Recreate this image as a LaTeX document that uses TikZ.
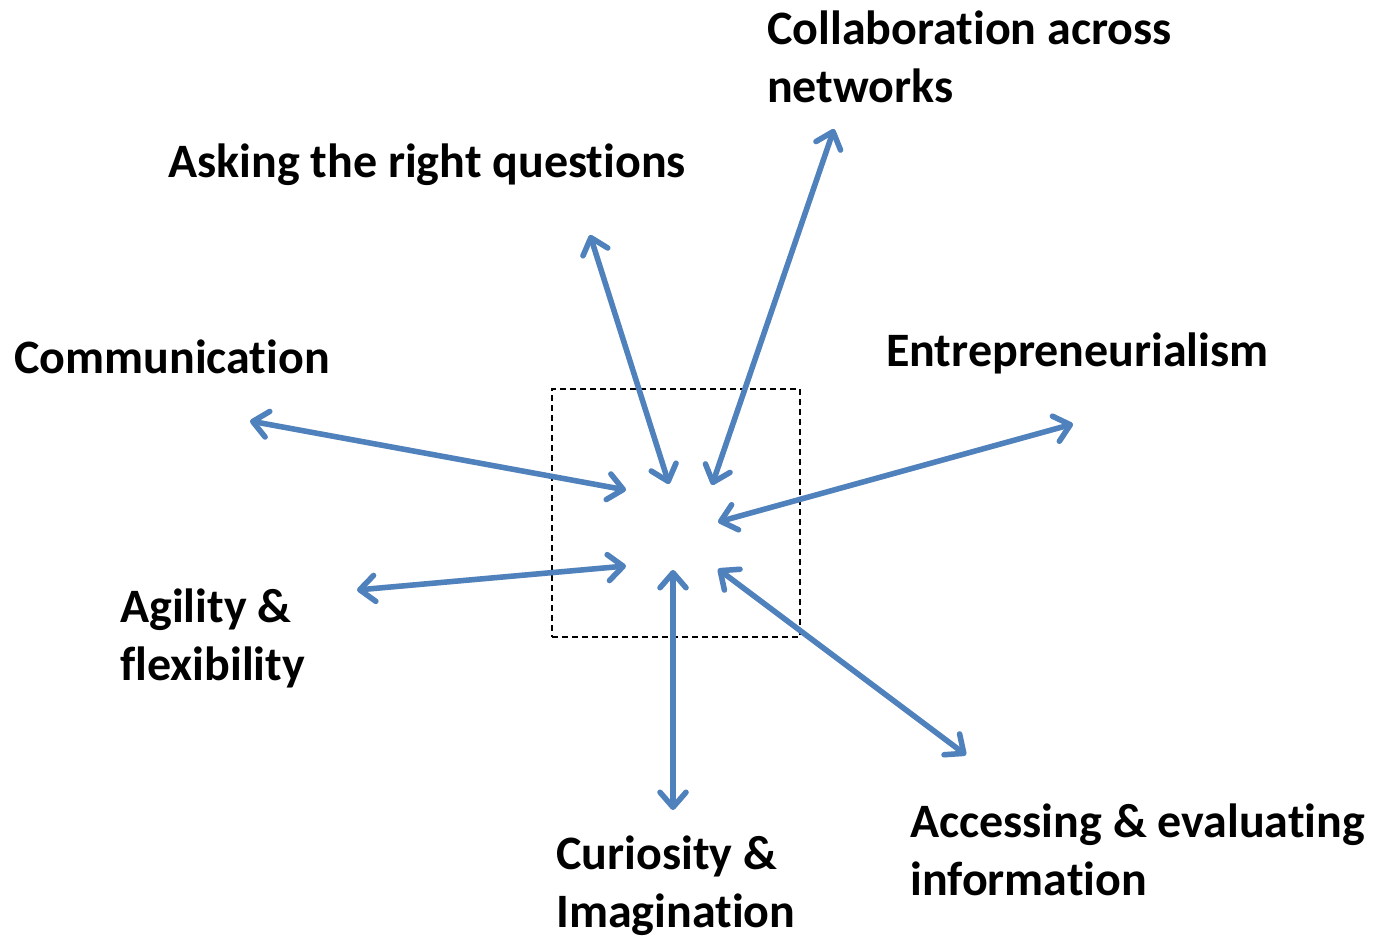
\documentclass[tikz,border=0pt]{standalone}
\usepackage{fontspec}
\setmainfont{Carlito}[Ligatures=NoCommon]
\usetikzlibrary{arrows.meta}
\definecolor{arrowblue}{HTML}{4F81BD}
\tikzset{
  x=1pt, y=-1pt,
  barb/.tip={Straight Barb[length=15pt,width=26pt,line cap=round,line join=round]},
  label/.style={font=\bfseries\fontsize{48}{58}\selectfont, inner sep=0pt, anchor=west, align=left},
  link/.style={draw=arrowblue, line width=5.5pt, line cap=round, barb-barb},
  shade/.style={draw=black, opacity=0.10, line width=5.5pt, line cap=round, barb-barb},
  frame/.style={draw=black, line width=1.3pt, dash pattern=on 6pt off 4pt}
}
\begin{document}
\begin{tikzpicture}
\useasboundingbox (0,0) rectangle (1373,941);

% central dashed frame
\node[frame, minimum width=248pt, minimum height=248pt, inner sep=0pt] (hub) at (676,513) {};

% skill labels
\node[label] (collab) at (767,57) {Collaboration across\\networks};
\node[label] (asking) at (168,165) {Asking the right questions};
\node[label] (comm) at (14,357) {Communication};
\node[label] (entre) at (886,353) {Entrepreneurialism};
\node[label] (agil) at (120,638) {Agility \&\\flexibility};
\node[label] (curio) at (556,886) {Curiosity \&\\Imagination};
\node[label] (access) at (910,850) {Accessing \& evaluating\\information};

% outer arrow ends
\coordinate (oComm) at (250,421);
\coordinate (oAsk) at (590,235);
\coordinate (oCol) at (834,129);
\coordinate (oEnt) at (1073,424);
\coordinate (oAgi) at (357,590);
\coordinate (oCur) at (673,810);
\coordinate (oAcc) at (966,755);

% inner arrow ends around the hub
\coordinate (iComm) at (626,490);
\coordinate (iAsk) at (669,484);
\coordinate (iCol) at (712,485);
\coordinate (iEnt) at (718,522);
\coordinate (iAgi) at (626,566);
\coordinate (iCur) at (673,570);
\coordinate (iAcc) at (718,569);

% soft drop shadows under the arrows
\begin{scope}[shift={(1.5,2.5)}]
\foreach \a/\b in {oComm/iComm,oAsk/iAsk,oCol/iCol,oEnt/iEnt,oAgi/iAgi,oCur/iCur,oAcc/iAcc}
  \draw[shade] (\a) -- (\b);
\end{scope}

% double-headed arrows
\foreach \a/\b in {oComm/iComm,oAsk/iAsk,oCol/iCol,oEnt/iEnt,oAgi/iAgi,oCur/iCur,oAcc/iAcc}
  \draw[link] (\a) -- (\b);
\end{tikzpicture}
\end{document}
